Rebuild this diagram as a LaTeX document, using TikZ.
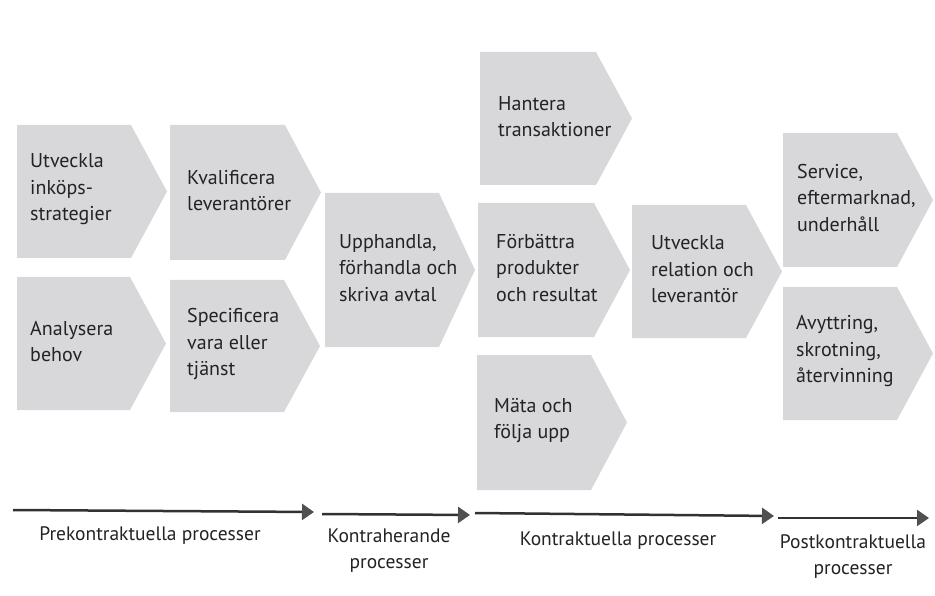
\documentclass[tikz,border=0pt]{standalone}
\usepackage{fontspec}
\setmainfont{PT Sans}
\usetikzlibrary{arrows.meta}
\definecolor{boxfill}{RGB}{216,216,218}
\definecolor{txt}{RGB}{35,35,35}
\definecolor{lineclr}{RGB}{50,50,50}
\definecolor{headclr}{RGB}{80,80,80}
\tikzset{
  chevfill/.style={fill=boxfill},
  boxtext/.style={anchor=west, align=left, inner sep=0pt, text=txt,
    font=\fontsize{20}{26.5}\selectfont},
  phase/.style={line width=2.5pt, draw=lineclr,
    -{Triangle[length=12pt,width=16pt,fill=headclr,color=headclr]}},
  phaselabel/.style={align=center, inner sep=0pt, text=txt,
    font=\fontsize{19.5}{26}\selectfont}
}
% name, left, top, tip x, bottom, text x, text
\newcommand\chevbox[7]{%
  \fill[chevfill] (#2,#3) -- (#4-36,#3) -- (#4,{(#3+#5)/2}) -- (#4-36,#5) -- (#2,#5) -- cycle;
  \node[boxtext] (#1) at (#6,{(#3+#5)/2-2}) {#7};
}
\begin{document}
\begin{tikzpicture}[x=1pt,y=-1pt]
\useasboundingbox (0,0) rectangle (935,596);
\fill[white] (0,0) rectangle (935,596);

\chevbox{utv}{17}{125}{167}{258}{30}{Utveckla\\inköps-\\strategier}
\chevbox{kval}{170}{125}{321}{260}{187}{Kvalificera\\leverantörer}
\chevbox{anal}{17}{277}{166}{410}{30}{Analysera\\behov}
\chevbox{spec}{170}{280}{320}{412}{187}{Specificera\\vara eller\\tjänst}
\chevbox{upph}{325}{193}{475}{347}{339}{Upphandla,\\förhandla och\\skriva avtal}
\chevbox{hant}{480}{52}{632}{185}{498}{Hantera\\transaktioner}
\chevbox{forb}{478}{203}{630}{337}{496}{Förbättra\\produkter\\och resultat}
\chevbox{mata}{477}{355}{627}{490}{494}{Mäta och\\följa upp}
\chevbox{rel}{632}{205}{782}{338}{651}{Utveckla\\relation och\\leverantör}
\chevbox{serv}{783}{133}{933}{267}{797}{Service,\\eftermarknad,\\underhåll}
\chevbox{avy}{783}{287}{933}{420}{796}{Avyttring,\\skrotning,\\återvinning}

\coordinate (p1s) at (13,510);
\coordinate (p1e) at (314,512);
\coordinate (p2s) at (322,514);
\coordinate (p2e) at (470,515);
\coordinate (p3s) at (475,513);
\coordinate (p3e) at (774,516);
\coordinate (p4s) at (778,518);
\coordinate (p4e) at (929,518);
\draw[phase] (p1s) -- (p1e);
\draw[phase] (p2s) -- (p2e);
\draw[phase] (p3s) -- (p3e);
\draw[phase] (p4s) -- (p4e);

\node[phaselabel] (pre) at (150,536) {Prekontraktuella processer};
\node[phaselabel] (kontrah) at (389,551) {Kontraherande\\processer};
\node[phaselabel] (kontr) at (618,541) {Kontraktuella processer};
\node[phaselabel] (post) at (853,557) {Postkontraktuella\\processer};
\end{tikzpicture}
\end{document}
